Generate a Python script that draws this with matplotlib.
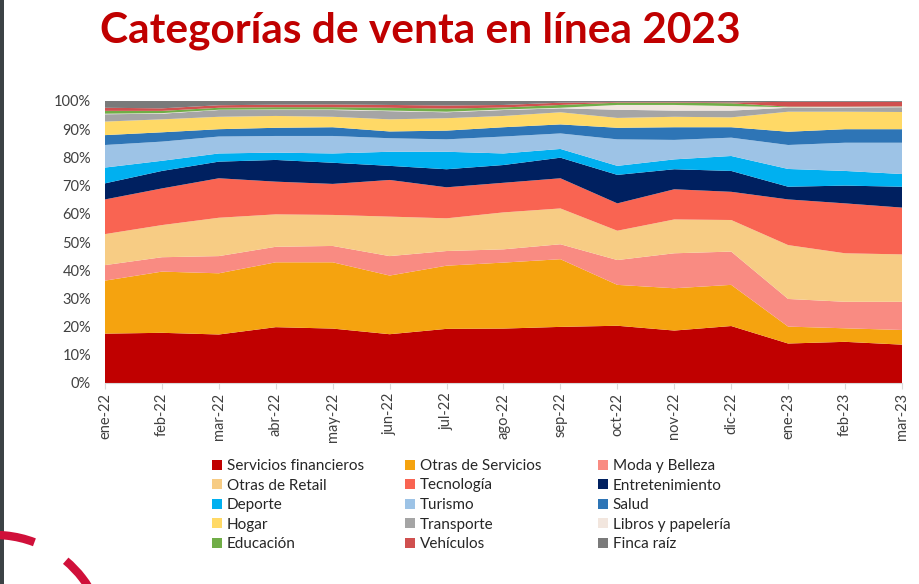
import matplotlib
matplotlib.use("Agg")
import matplotlib.pyplot as plt
from matplotlib.patches import Patch, Rectangle, Arc
from matplotlib.ticker import PercentFormatter
import numpy as np

months = ["ene-22", "feb-22", "mar-22", "abr-22", "may-22", "jun-22", "jul-22", "ago-22",
          "sep-22", "oct-22", "nov-22", "dic-22", "ene-23", "feb-23", "mar-23"]

categories = ["Servicios financieros", "Otras de Servicios", "Moda y Belleza",
              "Otras de Retail", "Tecnología", "Entretenimiento",
              "Deporte", "Turismo", "Salud",
              "Hogar", "Transporte", "Libros y papelería",
              "Educación", "Vehículos", "Finca raíz"]

servicios_financieros = [17.5, 17.8, 17.2, 19.8, 19.3, 17.3, 19.2, 19.3, 19.9, 20.3, 18.6, 20.2, 14.0, 14.6, 13.6]
otras_servicios       = [18.8, 21.7, 21.7, 23.0, 23.5, 20.8, 22.4, 23.4, 24.0, 14.5, 15.0, 14.6, 6.0, 4.8, 5.2]
moda_belleza          = [5.5, 5.1, 6.1, 5.5, 5.8, 6.9, 5.2, 4.7, 5.3, 8.8, 12.4, 11.8, 9.8, 9.4, 10.0]
otras_retail          = [11.0, 11.4, 13.6, 11.5, 11.0, 14.0, 11.6, 13.1, 12.7, 10.4, 12.0, 11.2, 19.1, 17.2, 16.8]
tecnologia            = [12.3, 13.0, 14.0, 11.6, 11.0, 13.0, 11.0, 10.5, 10.7, 9.7, 10.7, 10.0, 16.2, 17.7, 16.6]
entretenimiento       = [5.7, 6.2, 5.9, 7.7, 7.5, 5.0, 6.4, 6.3, 7.3, 10.1, 7.1, 7.4, 4.5, 6.3, 7.4]
deporte               = [5.6, 3.6, 2.9, 2.6, 3.3, 5.0, 6.2, 4.1, 3.1, 3.2, 3.5, 5.3, 6.3, 5.2, 4.5]
turismo               = [8.0, 6.8, 6.0, 5.9, 6.2, 4.8, 4.4, 6.0, 5.5, 9.4, 6.9, 6.5, 8.5, 10.0, 11.1]
salud                 = [3.5, 3.3, 2.6, 2.9, 3.1, 2.4, 3.1, 3.3, 3.2, 4.1, 4.5, 3.7, 4.7, 4.8, 4.8]
hogar                 = [4.8, 4.6, 4.4, 4.2, 3.7, 4.3, 4.4, 4.0, 4.3, 3.5, 3.7, 3.5, 7.1, 6.2, 6.1]
transporte            = [2.6, 2.0, 2.4, 2.1, 2.4, 2.9, 2.1, 2.1, 1.4, 2.9, 2.2, 2.4, 1.4, 1.5, 1.7]
libros_papeleria      = [0.2, 0.2, 0.1, 0.2, 0.2, 0.2, 0.2, 0.2, 0.2, 1.7, 2.0, 1.6, 0.2, 0.2, 0.2]
educacion             = [1.0, 0.8, 0.7, 0.8, 0.8, 1.0, 1.1, 0.7, 1.0, 0.8, 0.8, 1.0, 0.2, 0.1, 0.1]
vehiculos             = [1.1, 0.9, 0.9, 0.9, 1.0, 1.0, 1.1, 0.9, 0.8, 0.2, 0.2, 0.3, 1.7, 1.7, 1.6]
finca_raiz            = [2.4, 2.6, 1.5, 1.3, 1.2, 1.4, 1.6, 1.4, 0.6, 0.4, 0.4, 0.5, 0.3, 0.3, 0.3]

series = [servicios_financieros, otras_servicios, moda_belleza, otras_retail, tecnologia,
          entretenimiento, deporte, turismo, salud, hogar, transporte, libros_papeleria,
          educacion, vehiculos, finca_raiz]

colors = ["#C00000", "#F5A30F", "#F98B82", "#F7CC84", "#F96452", "#002060",
          "#00B0F0", "#9DC3E6", "#2E75B6", "#FFD966", "#A5A5A5", "#F2E6DE",
          "#70AD47", "#D0504F", "#7A7A7A"]

plt.rcParams["font.family"] = ["Lato", "DejaVu Sans"]

fig = plt.figure(figsize=(9.2, 5.84), dpi=100)
fig.patch.set_facecolor("white")

ax = fig.add_axes([105 / 920, 1 - 383 / 584, 797 / 920, 282 / 584])
x = np.arange(len(months))
data = np.array(series, dtype=float)
shares = data / data.sum(axis=0) * 100
ax.stackplot(x, shares, colors=colors, linewidth=0)

ax.set_xlim(0, len(months) - 1)
ax.set_ylim(0, 100)
ax.set_yticks(np.arange(0, 101, 10))
ax.yaxis.set_major_formatter(PercentFormatter(decimals=0))
ax.set_xticks(x)
ax.set_xticklabels(months, rotation=90)
for s in ["top", "right", "left"]:
    ax.spines[s].set_visible(False)
ax.spines["bottom"].set_color("#D9D9D9")
ax.tick_params(axis="y", length=0, labelsize=10.5, labelcolor="#404040", pad=10)
ax.tick_params(axis="x", length=4, color="#D9D9D9", labelsize=10.5, labelcolor="#404040", pad=3)

# Legend: three fixed-position columns, filled row-wise
col_x = [212, 405, 598]
for col in range(3):
    idx = [row * 3 + col for row in range(5)]
    leg = fig.legend([Patch(facecolor=colors[i], edgecolor="none") for i in idx],
                     [categories[i] for i in idx],
                     ncol=1, loc="upper left",
                     bbox_to_anchor=(col_x[col] / 920, 1 - 459 / 584),
                     frameon=False, fontsize=11, handlelength=0.65, handleheight=0.65,
                     handletextpad=0.3, labelspacing=0.36,
                     borderaxespad=0, borderpad=0)
    for t in leg.get_texts():
        t.set_color("#262626")

# Title
fig.text(100 / 920, 1 - 31 / 584, "Categorías de venta en línea 2023", fontsize=30.5,
         fontweight="bold", color="#C00000", va="center", ha="left")

# Slide decorations
fig.patches.append(Rectangle((0, 0), 4 / 920, 1, transform=fig.transFigure,
                             facecolor="#3C4245", edgecolor="none"))
for t1, t2 in [(69, 100), (25, 50)]:
    fig.patches.append(Arc((-0.05, -0.61), 2.2, 2.2, theta1=t1, theta2=t2,
                           transform=fig.dpi_scale_trans, color="#D0103A", linewidth=6))

fig.savefig("out.png", dpi=100)
